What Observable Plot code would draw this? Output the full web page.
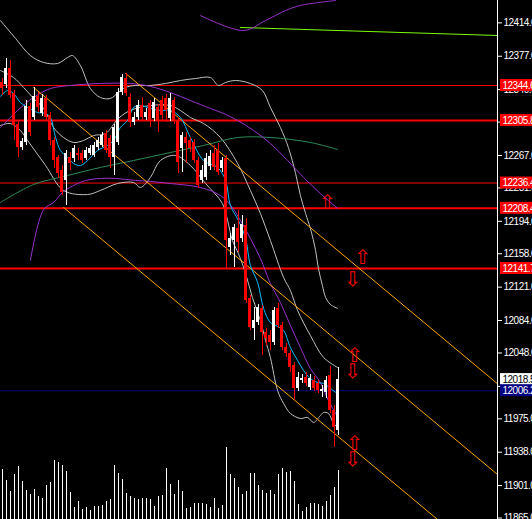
<!DOCTYPE html>
<html><head><meta charset="utf-8">
<script src="https://cdn.jsdelivr.net/npm/d3@7"></script>
<script src="https://cdn.jsdelivr.net/npm/@observablehq/plot@0.6"></script>
<style>
html,body{margin:0;padding:0;background:#000;}
#wrap{position:relative;width:532px;height:519px;overflow:hidden;background:#000;}
#wrap svg{position:absolute;left:0;top:0;}
</style></head><body><div id="wrap"></div>
<script>
// ---- candles (bar index = position in arrays) ----
const opens  = [12347.9,12345.7,12363.4,12335.7,12301.3,12275.8,12281.4,12321.3,12309.1,12332.4,12313.5,12330.2,12311.3,12283.6,12264.7,12250.3,12239.3,12264.7,12263.6,12269.2,12269.2,12263.6,12269.2,12267.0,12275.8,12278.1,12291.4,12285.8,12264.7,12281.4,12336.8,12352.3,12331.3,12303.6,12309.1,12322.4,12309.1,12324.6,12308.0,12320.2,12327.9,12330.2,12308.0,12327.9,12305.8,12274.7,12286.9,12283.6,12281.4,12261.4,12239.3,12242.6,12254.8,12269.2,12272.5,12252.6,12263.6,12165.0,12172.7,12186.0,12175.0,12189.4,12108.4,12075.2,12081.8,12097.4,12070.7,12067.5,12059.7,12097.4,12078.5,12054.1,12047.5,12034.2,12008.7,12017.5,12020.9,12009.8,12017.5,12014.2,12005.3,12004.2,12023.1,11984.3,11962.1];
const highs  = [12352.3,12374.5,12372.3,12339.0,12305.8,12285.8,12327.9,12324.6,12342.4,12336.8,12334.6,12333.5,12314.6,12286.9,12267.0,12255.9,12272.5,12270.3,12278.1,12274.7,12272.5,12275.8,12278.1,12281.4,12286.9,12292.5,12294.7,12289.1,12301.3,12341.2,12356.8,12357.9,12335.7,12314.6,12327.9,12331.3,12319.1,12327.9,12330.2,12323.5,12332.4,12334.6,12335.7,12331.3,12309.1,12292.5,12292.5,12286.9,12284.7,12264.7,12255.9,12269.2,12272.5,12278.1,12280.3,12264.7,12267.0,12180.5,12190.5,12206.0,12200.5,12197.1,12111.8,12098.5,12101.8,12100.7,12075.2,12073.0,12098.5,12102.9,12081.8,12058.6,12050.8,12037.5,12026.4,12024.2,12026.4,12024.2,12022.0,12017.5,12012.0,12022.0,12033.1,11989.8,12031.9];
const lows   = [12333.5,12341.2,12330.2,12283.6,12264.7,12272.5,12278.1,12288.0,12305.8,12314.6,12310.2,12305.8,12278.1,12252.6,12241.5,12222.6,12211.5,12250.3,12259.2,12261.4,12258.1,12261.4,12267.0,12264.7,12272.5,12275.8,12269.2,12252.6,12244.8,12278.1,12333.5,12332.4,12298.0,12300.2,12305.8,12305.8,12305.8,12298.0,12304.7,12292.5,12305.8,12303.6,12304.7,12301.3,12247.0,12248.1,12258.1,12270.3,12258.1,12230.4,12235.9,12239.3,12250.3,12250.3,12244.8,12248.1,12141.7,12156.1,12142.8,12159.4,12170.5,12102.9,12073.0,12061.9,12078.5,12045.2,12056.3,12050.8,12056.3,12075.2,12050.8,12043.0,12026.4,11995.4,12005.3,12014.2,12010.9,12006.4,12005.3,12003.1,11998.7,11997.6,11980.9,11943.3,11956.6];
const closes = [12341.2,12363.4,12333.5,12300.2,12275.8,12282.5,12321.3,12292.5,12332.4,12320.2,12330.2,12309.1,12283.6,12261.4,12247.0,12225.9,12269.2,12258.1,12274.7,12267.0,12261.4,12272.5,12274.7,12278.1,12283.6,12289.1,12272.5,12264.7,12298.0,12336.8,12353.4,12335.7,12303.6,12309.1,12322.4,12309.1,12314.6,12305.8,12325.7,12305.8,12311.3,12316.9,12330.2,12305.8,12259.2,12289.1,12280.3,12274.7,12261.4,12233.7,12250.3,12263.6,12265.9,12253.7,12248.1,12261.4,12172.7,12175.0,12187.1,12170.5,12190.5,12106.2,12076.3,12084.0,12098.5,12070.7,12064.1,12059.7,12095.1,12078.5,12054.1,12047.5,12031.9,12008.7,12020.9,12019.7,12014.2,12019.7,12008.7,12006.4,12007.6,12017.5,11984.3,11965.4,12018.5];
const volumes = [500,390,280,453,530,380,290,253,300,230,210,340,370,590,570,543,480,270,120,180,100,120,90,130,130,140,180,200,543,460,400,260,230,210,200,210,210,200,130,230,240,510,350,250,390,280,110,120,160,160,160,150,120,210,110,140,720,450,410,320,250,280,460,460,340,290,260,290,250,450,510,470,480,380,150,80,120,160,160,150,130,180,240,320,490];

// ---- indicator lines: [bar, price] ----
const bbUpper = [[-0.4,12416.6],[3.4,12396.7],[7.1,12377.8],[10.4,12370.1],[13.9,12369.0],[16.4,12375.6],[17.6,12377.8],[19.6,12366.7],[22.1,12341.2],[24.6,12331.3],[27.1,12330.2],[29.1,12336.8],[30.9,12342.4],[33.4,12344.6],[37.1,12344.6],[40.9,12346.8],[44.6,12350.1],[48.4,12352.3],[52.1,12353.4],[54.1,12344.6],[55.9,12347.9],[58.4,12350.1],[62.1,12346.8],[65.1,12339.0],[67.1,12320.2],[69.6,12298.0],[71.6,12275.8],[73.4,12247.0],[74.6,12222.6],[75.9,12202.7],[77.1,12186.0],[78.4,12161.6],[79.1,12141.7],[80.1,12122.9],[80.9,12109.5],[82.1,12101.8],[83.9,12097.4]];
const bbMiddle = [[-0.4,12361.2],[2.9,12353.4],[5.4,12342.4],[7.9,12330.2],[10.4,12319.1],[12.9,12298.0],[15.4,12286.9],[17.9,12281.4],[20.4,12283.6],[22.9,12289.1],[25.9,12291.4],[29.1,12308.0],[32.1,12316.9],[37.1,12322.4],[42.1,12322.4],[44.6,12316.9],[47.1,12309.1],[50.4,12302.4],[54.6,12286.9],[58.9,12258.1],[62.1,12228.2],[64.6,12202.7],[67.1,12172.7],[70.4,12131.7],[72.1,12117.3],[73.9,12095.1],[77.1,12067.4],[80.4,12043.0],[83.9,12031.9]];
const bbLower = [[-0.4,12300.2],[2.1,12302.4],[4.6,12294.7],[6.4,12283.6],[10.9,12255.9],[15.4,12228.2],[21.4,12223.7],[24.6,12228.2],[28.9,12235.9],[32.9,12237.0],[34.6,12231.5],[37.1,12242.6],[39.6,12261.4],[43.4,12267.0],[47.1,12255.9],[50.9,12235.9],[55.1,12213.8],[56.4,12194.9],[57.6,12172.7],[59.1,12158.3],[60.9,12136.2],[62.6,12109.5],[64.6,12084.0],[65.9,12061.9],[67.1,12043.0],[68.9,12006.4],[70.4,11992.0],[72.1,11981.0],[74.6,11975.4],[76.4,11976.5],[77.9,11971.0],[79.6,11978.7],[80.4,11982.1],[81.6,11981.0],[82.9,11969.9],[83.9,11965.4]];
const maCyan = [[-0.4,12332.4],[1.4,12339.0],[2.9,12335.7],[4.6,12325.7],[6.4,12320.2],[8.9,12314.6],[10.9,12313.5],[12.1,12309.1],[13.4,12286.9],[14.6,12272.5],[16.4,12264.7],[17.9,12258.1],[19.6,12255.9],[21.4,12261.4],[23.9,12272.5],[26.4,12278.1],[27.9,12283.6],[29.6,12298.0],[31.4,12305.8],[32.9,12320.2],[34.6,12322.4],[37.1,12319.1],[39.6,12316.9],[42.1,12316.9],[44.6,12309.1],[47.1,12286.9],[50.4,12261.4],[53.9,12253.7],[55.9,12239.3],[57.1,12211.5],[59.1,12194.9],[60.9,12175.0],[62.1,12145.0],[63.9,12126.2],[65.4,12097.4],[67.1,12081.8],[68.9,12077.4],[70.4,12073.0],[72.1,12054.1],[73.9,12039.7],[75.4,12028.6],[77.1,12019.7],[78.9,12015.3],[80.4,12014.2],[82.1,12008.7],[84.1,12002.0]];
const maPurpleSlow = [[-0.4,12298.0],[3.9,12316.9],[7.9,12331.3],[12.1,12341.2],[17.1,12344.6],[24.6,12346.8],[32.1,12346.8],[37.1,12343.5],[42.1,12336.8],[47.1,12327.9],[52.1,12319.1],[55.4,12313.5],[58.9,12305.8],[62.9,12294.7],[67.1,12280.3],[71.4,12261.4],[75.4,12242.6],[79.6,12224.8],[83.9,12208.2]];
const maPurpleFast = [[7.1,12150.6],[10.4,12207.1],[12.9,12214.9],[15.4,12227.1],[18.4,12234.8],[20.9,12239.3],[24.6,12241.5],[28.4,12241.5],[33.4,12239.3],[37.1,12238.2],[42.1,12235.9],[49.6,12231.5],[54.6,12222.6],[57.6,12209.3],[59.6,12194.9],[62.1,12175.0],[64.6,12152.8],[67.1,12125.1],[69.6,12104.0],[72.1,12078.5],[74.6,12054.1],[77.1,12030.8],[79.6,12015.3],[81.6,11995.4],[83.4,11981.0],[84.1,11975.4]];
const maGreen = [[-0.4,12214.9],[7.9,12234.8],[16.4,12244.8],[24.6,12253.7],[32.9,12261.4],[42.1,12270.3],[50.4,12278.1],[58.9,12286.9],[67.1,12286.9],[77.1,12281.4],[83.9,12273.6]];
const purpleTop = [[49.6,12422.2],[60.4,12405.5],[65.9,12416.6],[70.9,12427.7],[74.6,12433.3],[83.4,12438.8]];
const greenTrend = [[59.6,12408.9],[123.9,12400.0]];
const channels = [
  [[30.9,12357.9],[123.9,12013.8]],
  [[7.9,12342.4],[123.9,11913.2]],
  [[15.4,12209.3],[110,11859.3]]
];
// ---- levels ----
const levels = [12344.6,12305.8,12236.4,12208.4,12141.7];
const levelWidths = [1,2,1,2,2];
const bidLine = 12006.2;
const lastPrice = 12018.5;
const tickValues = [12414,12377,12340,12304,12267,12231,12194,12158,12121,12084,12048,12011,11975,11938,11901,11865];
const arrows = [
  {b:81.2,p:12214.9,ch:"⇧"},{b:90.0,p:12153.9,ch:"⇧"},{b:87.5,p:12129.5,ch:"⇩"},
  {b:88.0,p:12044.7,ch:"⇧"},{b:87.5,p:12027.0,ch:"⇩"},{b:88.0,p:11947.7,ch:"⇧"},{b:87.5,p:11930.0,ch:"⇩"}
];

const W = 532, H = 519, MR = 35;
const xDomain = [-0.375, 123.875];
const yDomain = [11863.4, 12438.8];
const pxPerUnit = H / (yDomain[1] - yDomain[0]);
const barsPerPx = (xDomain[1] - xDomain[0]) / (W - MR);

const candles = opens.map((o, i) => ({i, o, h: highs[i], l: lows[i], c: closes[i], up: closes[i] >= o}));
const col = d => d.up ? "#ffffff" : "#ff0000";

const boxes = [
  ...levels.map(v => ({v, fill: "#ff0000", text: "#ffffff"})),
  {v: lastPrice, fill: "#ffffff", text: "#000000"},
  {v: bidLine, fill: "#000080", text: "#ffffff"}
];
const half = 6 / pxPerUnit;
const bx1 = xDomain[1] + 3 * barsPerPx, bx2 = xDomain[1] + 40 * barsPerPx;

const lineOpts = (stroke) => ({x: d => d[0], y: d => d[1], stroke, strokeWidth: 1, curve: "catmull-rom"});

const main = Plot.plot({
  width: W, height: H, marginLeft: 0, marginRight: MR, marginTop: 0, marginBottom: 0,
  style: {background: "#000", color: "#fff", fontFamily: "Liberation Sans, Arial, sans-serif", fontSize: "10px", letterSpacing: "-0.5px"},
  x: {domain: xDomain, axis: null},
  y: {domain: yDomain, axis: null},
  marks: [
    Plot.ruleY(levels.map((v, k) => ({v, w: levelWidths[k]})), {y: "v", stroke: "#ff0000", strokeWidth: "w"}),
    Plot.ruleY([bidLine], {stroke: "#000080", strokeWidth: 1}),
    Plot.line(greenTrend, {x: d => d[0], y: d => d[1], stroke: "#7cfc00", strokeWidth: 1}),
    Plot.line(purpleTop, lineOpts("#9932cc")),
    Plot.line(bbUpper, lineOpts("#c0c0c0")),
    Plot.line(bbMiddle, lineOpts("#c0c0c0")),
    Plot.line(bbLower, lineOpts("#c0c0c0")),
    Plot.line(maGreen, lineOpts("#2e8b57")),
    Plot.line(maPurpleSlow, lineOpts("#9932cc")),
    Plot.line(maPurpleFast, lineOpts("#9932cc")),
    ...channels.map(c => Plot.line(c, {x: d => d[0], y: d => d[1], stroke: "#ffa500", strokeWidth: 1, clip: true})),
    Plot.line(maCyan, lineOpts("#00bfff")),
    Plot.ruleX(candles, {x: "i", y1: "l", y2: "h", stroke: col, strokeWidth: 1, shapeRendering: "crispEdges"}),
    Plot.rect(candles, {x1: d => d.i - 0.375, x2: d => d.i + 0.375, y1: "o", y2: "c", fill: col, shapeRendering: "crispEdges"}),
    Plot.text(arrows, {x: "b", y: "p", text: "ch", fill: "#ff0000", fontSize: 20, fontFamily: "DejaVu Sans"}),
    Plot.ruleX([xDomain[1]], {stroke: "#ffffff", strokeWidth: 1}),
    Plot.axisY({anchor: "right", ticks: tickValues, tickFormat: d => d.toFixed(1), tickSize: 4, tickPadding: 2, stroke: "#fff", fill: "#fff", fontSize: 10}),
    Plot.rect(boxes, {x1: bx1, x2: bx2, y1: d => d.v - half, y2: d => d.v + half, fill: "fill", clip: false}),
    Plot.text(boxes, {x: bx1, y: "v", text: d => d.v.toFixed(1), fill: "text", textAnchor: "start", dx: 2, fontSize: 10, clip: false})
  ]
});

const volPlot = Plot.plot({
  width: W, height: 100, marginLeft: 0, marginRight: MR, marginTop: 0, marginBottom: 0,
  style: {background: "transparent"},
  x: {domain: xDomain, axis: null},
  y: {domain: [0, 1000], axis: null},
  marks: [
    Plot.ruleX(volumes.map((v, i) => ({i, v})), {x: "i", y1: 0, y2: "v", stroke: "#ffffff", strokeWidth: 1, shapeRendering: "crispEdges"})
  ]
});
volPlot.style.top = (H - 100) + "px";

const wrap = document.getElementById("wrap");
wrap.appendChild(main);
wrap.appendChild(volPlot);
</script>
</body></html>
